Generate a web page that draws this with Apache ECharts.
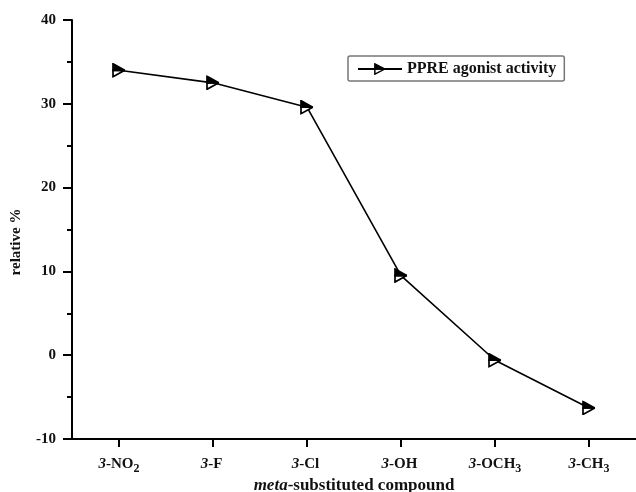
<!DOCTYPE html>
<html>
<head>
<meta charset="utf-8">
<script src="https://cdn.jsdelivr.net/npm/echarts@6/dist/echarts.min.js"></script>
<style>
  html, body { margin: 0; padding: 0; background: #fff; }
  #chart { width: 636px; height: 492px; }
</style>
</head>
<body>
<div id="chart"></div>
<script>
// ---- data ----
const categories = ['3-NO2', '3-F', '3-Cl', '3-OH', '3-OCH3', '3-CH3'];
const activity = [34.0, 32.5, 29.6, 9.5, -0.6, -6.3];
const seriesName = 'PPRE agonist activity';
const yMin = -10;
const yMax = 40;
const yInterval = 10;

// ---- styles ----
const FONT = '"Liberation Serif", "Times New Roman", serif';
const svg = "<svg xmlns='http://www.w3.org/2000/svg' width='28' height='30' viewBox='0 0 28 30' preserveAspectRatio='none'>" +
  "<polygon points='2,15 25.5,15 2,28' fill='white' stroke='black' stroke-width='3.4' stroke-linejoin='miter'/>" +
  "<polygon points='2,2 25.5,15 2,15' fill='black' stroke='black' stroke-width='3.4' stroke-linejoin='miter'/>" +
  "</svg>";
const triSymbol = 'image://data:image/svg+xml;charset=utf-8,' + encodeURIComponent(svg);

function catLabel(v) {
  // italic leading "3", trailing digit as subscript (space token keeps baselines aligned)
  const m = v.match(/^(\d)(.*?)(\d?)$/);
  return '{i|' + m[1] + '}{n|' + m[2] + '}{s|' + (m[3] || ' ') + '}';
}

const chart = echarts.init(document.getElementById('chart'), null, { renderer: 'canvas' });
chart.setOption({
  backgroundColor: '#fff',
  animation: false,
  grid: { left: 72, right: 0, top: 20, bottom: 53, containLabel: false, outerBoundsMode: 'none' },
  legend: {
    left: 348, top: 56,
    padding: [5, 8, 4, 9],
    borderColor: '#777', borderWidth: 1.5, borderRadius: 2,
    itemWidth: 44, itemHeight: 15, itemGap: 6,
    textStyle: { fontFamily: FONT, fontWeight: 'bold', fontSize: 16, color: '#111' },
    data: [seriesName]
  },
  xAxis: {
    type: 'category',
    data: categories,
    boundaryGap: true,
    name: '{it|meta}{b|-substituted compound}',
    nameLocation: 'middle',
    nameGap: 38,
    nameMoveOverlap: false,
    nameTextStyle: {
      rich: {
        it: { fontFamily: FONT, fontWeight: 'bold', fontStyle: 'italic', fontSize: 17, color: '#111' },
        b: { fontFamily: FONT, fontWeight: 'bold', fontSize: 17, color: '#111' }
      }
    },
    axisLine: { show: true, onZero: false, lineStyle: { color: '#000', width: 2 } },
    axisTick: { show: true, alignWithLabel: true, interval: 0, length: 8, lineStyle: { color: '#000', width: 2 } },
    axisLabel: {
      interval: 0,
      margin: 15,
      formatter: catLabel,
      rich: {
        i: { fontFamily: FONT, fontWeight: 'bold', fontStyle: 'italic', fontSize: 15, color: '#111' },
        n: { fontFamily: FONT, fontWeight: 'bold', fontSize: 15, color: '#111' },
        s: { fontFamily: FONT, fontWeight: 'bold', fontSize: 12, color: '#111', padding: [9, 0, 0, 0] }
      }
    },
    splitLine: { show: false }
  },
  yAxis: {
    type: 'value',
    min: yMin, max: yMax, interval: yInterval,
    name: 'relative %',
    nameLocation: 'middle',
    nameGap: 48,
    nameMoveOverlap: false,
    nameTextStyle: { fontFamily: FONT, fontWeight: 'bold', fontSize: 15, color: '#111', padding: [0, 25, 0, 0] },
    axisLine: { show: true, lineStyle: { color: '#000', width: 2 } },
    axisTick: { show: true, length: 9, lineStyle: { color: '#000', width: 2 } },
    minorTick: { show: true, splitNumber: 2, length: 5, lineStyle: { color: '#000', width: 2 } },
    axisLabel: { margin: 16, fontFamily: FONT, fontWeight: 'bold', fontSize: 15, color: '#111' },
    splitLine: { show: false },
    minorSplitLine: { show: false }
  },
  series: [{
    name: seriesName,
    type: 'line',
    data: activity,
    symbol: triSymbol,
    symbolSize: [14, 15],
    showAllSymbol: true,
    lineStyle: { color: '#000', width: 1.6 },
    itemStyle: { color: '#000' }
  }]
});
</script>
</body>
</html>
